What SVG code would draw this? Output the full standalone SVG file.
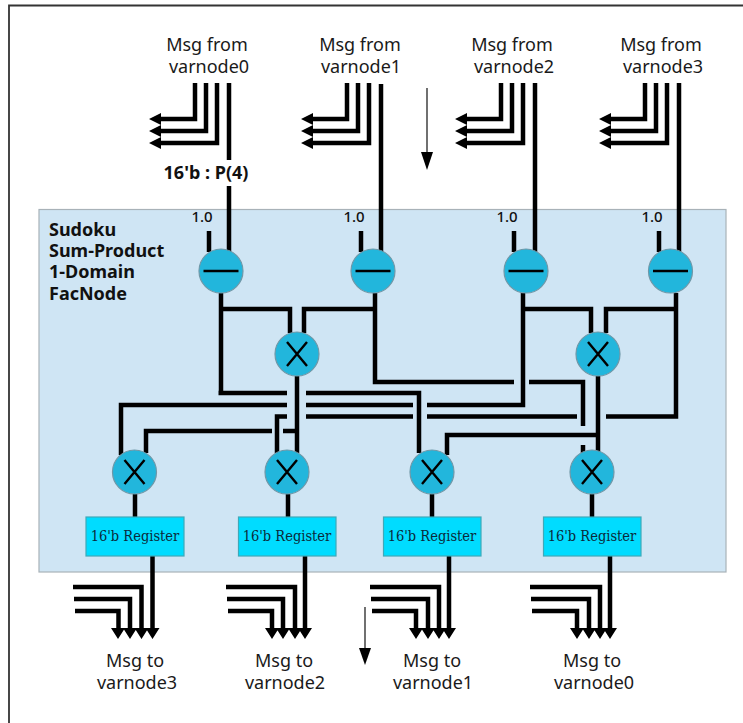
<svg xmlns="http://www.w3.org/2000/svg" width="743" height="723" viewBox="0 0 743 723">
<style>
.w{fill:none;stroke:#000;stroke-width:4.5;stroke-linejoin:miter}
.thin{fill:none;stroke:#111;stroke-width:1.2}
.c{fill:#22b6dc;stroke:#6f98a8;stroke-width:1.2}
.g{fill:none;stroke:#000;stroke-width:2.4}
.r{fill:#00dcff;stroke:#3fa9b8;stroke-width:1.2}
text{font-family:"Noto Sans","Open Sans",sans-serif;fill:#1a1a1a}
.l{font-size:18px;text-anchor:middle}
.b{font-size:18px;font-weight:700;fill:#111}
.o{font-size:15px;text-anchor:middle;font-weight:500;fill:#111}
.t{font-family:"DejaVu Serif Condensed","DejaVu Serif",serif;font-size:14.500px;text-anchor:middle;fill:#0b2a3a}
</style>
<defs>
<g id="from">
<path class="w" d="M0 0V36H-34"/><path class="w" d="M11 0V48H-34"/><path class="w" d="M22 0V60H-34"/>
<path d="M-46 36L-34 30V42Z M-46 48L-34 42V54Z M-46 60L-34 54V66Z"/>
</g>
<g id="minus"><circle class="c" r="22"/><path class="g" d="M-17.500 0H17.500"/></g>
<g id="times"><circle class="c" r="22"/><path class="g" d="M-10 -12L10 12M10 -12L-10 12"/></g>
</defs>

<path d="M9 723V5.500H743" fill="none" stroke="#333" stroke-width="1.800"/>
<rect x="39" y="209.500" width="687" height="362.500" fill="#cfe5f4" stroke="#a8b2b8" stroke-width="1.200"/>

<g id="connectors">
<use href="#from" x="195" y="83"/><use href="#from" x="347" y="83"/><use href="#from" x="501" y="83"/><use href="#from" x="645" y="83"/>
<path class="w" d="M229 83V160M229 186V252"/>
<path class="w" d="M381 84V252M535 83V252M679 83V252"/>
<path class="w" d="M209 231V252M361 231V252M514 231V252M659 231V252"/>
<path class="thin" d="M427 88V155"/><path d="M421 152H433L427 170Z"/>
<path class="thin" d="M365 607V650"/><path d="M359 648H371L365 665Z"/>

<path class="w" d="M221 293V393M218.500 393H287M221 309H290V333"/>
<path class="w" d="M304 333V309H375M375 293V382H514M529 382H583V426M583 445V453"/>
<path class="w" d="M297 376V453"/>
<path class="w" d="M306 393H419V453"/>
<path class="w" d="M287 405H121V455"/>
<path class="w" d="M306 405H413M427 405H523V293"/>
<path class="w" d="M287 416.500H277V453"/>
<path class="w" d="M306 416.500H413M427 416.500H577M606 416.500H676V293"/>
<path class="w" d="M272 431H146V453M283 431H297"/>
<path class="w" d="M523 309H591V333M606 333V309H676"/>
<path class="w" d="M598 376V453M598 435H447V455"/>

<path class="w" d="M135 494V517M288 494V517M432 494V517M592 494V517"/>
<path class="w" d="M152.500 556V630M305 556V630M449 556V630M610 556V630"/>

<path class="w" d="M73 587H141.500V630M74 599H130V630M75 611H118.500V630"/>
<path class="w" d="M226 587H295V630M227 599H283V630M228 611H272V630"/>
<path class="w" d="M370 587H439V630M371 599H428V630M372 611H416V630"/>
<path class="w" d="M530 587H600V630M531 599H589V630M532 611H577V630"/>
<path d="M111 628H125L118 639Z M123 628H137L130 639Z M134.500 628H148.500L141.500 639Z M145.500 628H159.500L152.500 639Z"/>
<path d="M265 628H279L272 639Z M276 628H290L283 639Z M288 628H302L295 639Z M298 628H312L305 639Z"/>
<path d="M409 628H423L416 639Z M421 628H435L428 639Z M432 628H446L439 639Z M442 628H456L449 639Z"/>
<path d="M570 628H584L577 639Z M582 628H596L589 639Z M593 628H607L600 639Z M603 628H617L610 639Z"/>
</g>

<g id="lbl-from0"><text class="l" x="207" y="51">Msg from</text><text class="l" x="209" y="73">varnode0</text></g>
<g id="lbl-from1"><text class="l" x="360" y="51">Msg from</text><text class="l" x="361" y="73">varnode1</text></g>
<g id="lbl-from2"><text class="l" x="512" y="51">Msg from</text><text class="l" x="514" y="73">varnode2</text></g>
<g id="lbl-from3"><text class="l" x="661" y="51">Msg from</text><text class="l" x="663" y="73">varnode3</text></g>
<text class="b" x="206" y="179" text-anchor="middle">16'b : P(4)</text>
<g id="title"><text class="b" x="49" y="236">Sudoku</text><text class="b" x="49" y="257">Sum-Product</text><text class="b" x="49" y="278">1-Domain</text><text class="b" x="49" y="300">FacNode</text></g>
<text class="o" x="202" y="222">1.0</text><text class="o" x="354" y="222">1.0</text><text class="o" x="507" y="222">1.0</text><text class="o" x="652" y="222">1.0</text>

<g id="sub0"><use href="#minus" x="221" y="271"/></g>
<g id="sub1"><use href="#minus" x="373" y="271"/></g>
<g id="sub2"><use href="#minus" x="526" y="271"/></g>
<g id="sub3"><use href="#minus" x="670.500" y="271"/></g>
<g id="mul-a"><use href="#times" x="297" y="354"/></g>
<g id="mul-b"><use href="#times" x="598" y="354"/></g>
<g id="mul0"><use href="#times" x="134.500" y="472"/></g>
<g id="mul1"><use href="#times" x="287" y="472"/></g>
<g id="mul2"><use href="#times" x="432" y="472"/></g>
<g id="mul3"><use href="#times" x="592" y="472"/></g>
<g id="reg0"><rect class="r" x="86" y="517" width="98" height="39"/><text class="t" x="135" y="541">16'b Register</text></g>
<g id="reg1"><rect class="r" x="238.500" y="517" width="97.500" height="39"/><text class="t" x="287" y="541">16'b Register</text></g>
<g id="reg2"><rect class="r" x="383.500" y="517" width="97.500" height="39"/><text class="t" x="432" y="541">16'b Register</text></g>
<g id="reg3"><rect class="r" x="543.500" y="517" width="97.500" height="39"/><text class="t" x="592" y="541">16'b Register</text></g>
<g id="lbl-to3"><text class="l" x="135" y="667">Msg to</text><text class="l" x="137" y="689">varnode3</text></g>
<g id="lbl-to2"><text class="l" x="284" y="667">Msg to</text><text class="l" x="285" y="689">varnode2</text></g>
<g id="lbl-to1"><text class="l" x="432" y="667">Msg to</text><text class="l" x="433" y="689">varnode1</text></g>
<g id="lbl-to0"><text class="l" x="592" y="667">Msg to</text><text class="l" x="594" y="689">varnode0</text></g>
</svg>
